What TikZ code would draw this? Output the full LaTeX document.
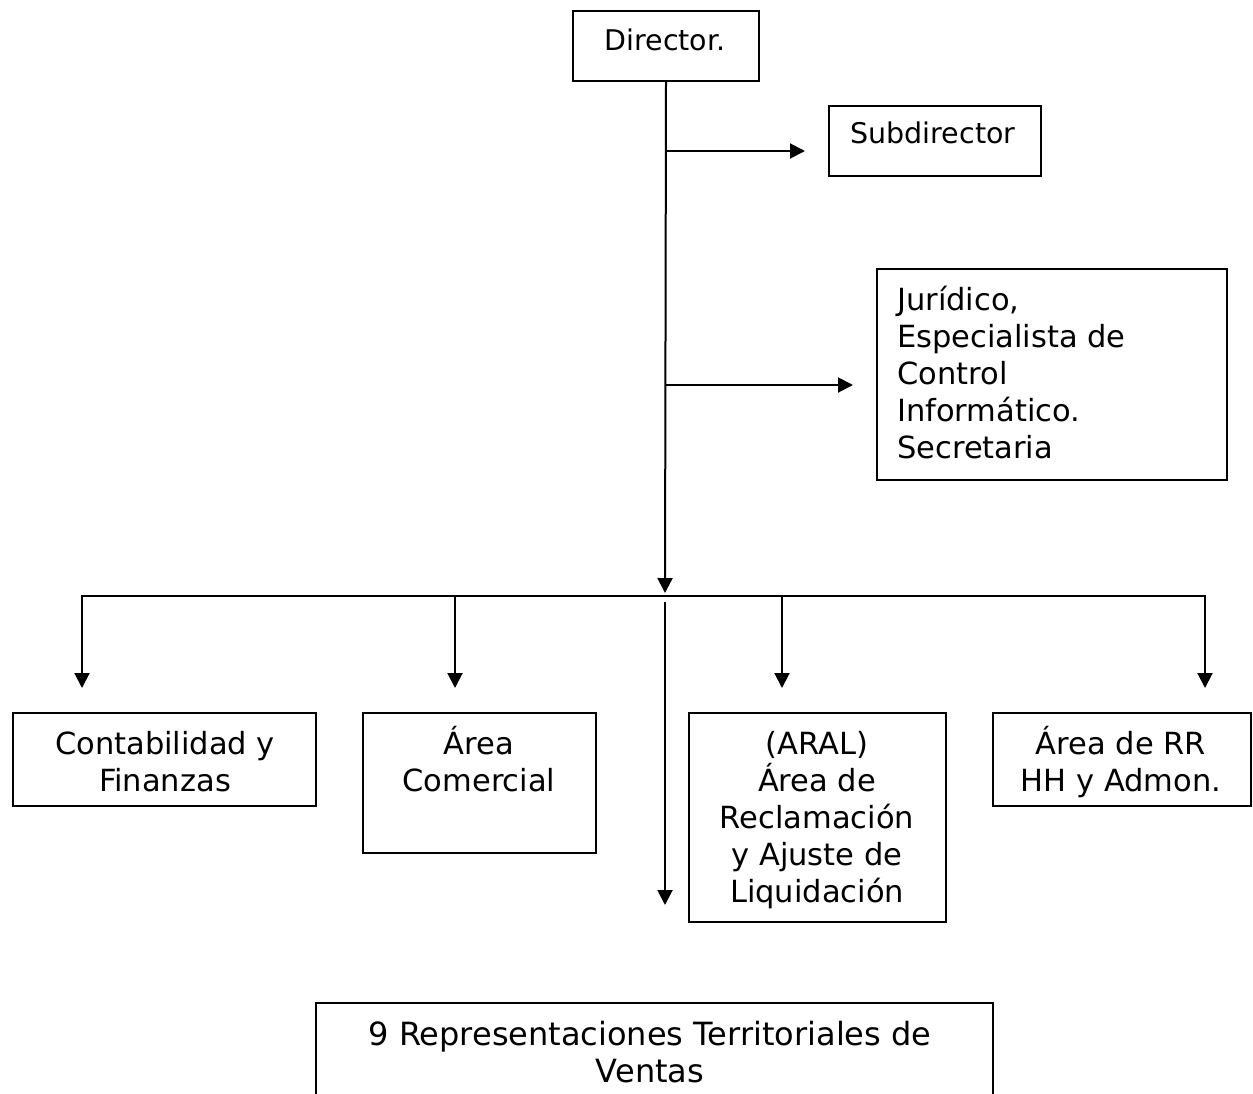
\documentclass[tikz,border=0pt]{standalone}
\usepackage{fontspec}
\setmainfont{DejaVu Sans}
\usetikzlibrary{arrows.meta}
\begin{document}
\begin{tikzpicture}[x=1pt,y=-1pt,
  box/.style={draw, line width=2pt, rectangle, inner sep=0pt, anchor=north west},
  lbl/.style={inner sep=0pt, anchor=base, align=center, font=\fontsize{30.5}{37}\selectfont},
  lblsmall/.style={inner sep=0pt, font=\fontsize{28.5}{37}\selectfont},
  line/.style={line width=2pt},
  arr/.style={line width=2pt, -{Triangle[length=15pt,width=15pt]}}]
\useasboundingbox[fill=white] (0,0) rectangle (1253,1093);

% boxes
\node[box, minimum width=186pt, minimum height=70pt] (dir) at (572,10) {};
\node[box, minimum width=212pt, minimum height=70pt] (sub) at (828,105) {};
\node[box, minimum width=350pt, minimum height=211pt] (jur) at (876,268) {};
\node[box, minimum width=303pt, minimum height=93pt] (cont) at (12,712) {};
\node[box, minimum width=233pt, minimum height=140pt] (com) at (362,712) {};
\node[box, minimum width=257pt, minimum height=209pt] (aral) at (688,712) {};
\node[box, minimum width=258pt, minimum height=93pt] (rrhh) at (992,712) {};
\node[box, minimum width=677pt, minimum height=140pt] (rep) at (315,1002) {};

% texts (anchor base = baseline of the last line)
\node[lblsmall] (tdir) at (665,40) {Director.};
\node[lblsmall] (tsub) at (933,133) {Subdirector};
\node[lbl, anchor=base west, align=left] (tjur) at (897,458)
  {Jurídico,\\Especialista de\\Control\\Informático.\\Secretaria};
\node[lbl] (tcont) at (165,791) {Contabilidad y\\Finanzas};
\node[lbl] (tcom) at (479,791) {Área\\Comercial};
\node[lbl] (taral) at (817,902) {(ARAL)\\Área de\\Reclamación\\y Ajuste de\\Liquidación};
\node[lbl] (trrhh) at (1121,791) {Área de RR\\HH y Admon.};
\node[lbl, font=\fontsize{32}{37}\selectfont] (trep) at (650,1082) {9 Representaciones Territoriales de\\Ventas};

% connectors
\coordinate (bsub) at (665,151);
\coordinate (bjur) at (665,385);
\coordinate (bus) at (665,593);
\coordinate (bl) at (82,596);
\coordinate (br) at (1205,596);
\coordinate (cstart) at (665,602);
\coordinate (cend) at (665,905);
\coordinate (d1) at (82,688);
\coordinate (d2) at (455,596);
\coordinate (d2e) at (455,688);
\coordinate (d3) at (782,596);
\coordinate (d3e) at (782,688);
\coordinate (d4e) at (1205,688);
\coordinate (esub) at (805,151);
\coordinate (ejur) at (853,385);

\draw[arr] (dir.south) -- (bus);
\draw[arr] (bsub) -- (esub);
\draw[arr] (bjur) -- (ejur);
\draw[line, line cap=rect] (bl) -- (br);
\draw[arr] (bl) -- (d1);
\draw[arr] (d2) -- (d2e);
\draw[arr] (d3) -- (d3e);
\draw[arr] (br) -- (d4e);
\draw[arr] (cstart) -- (cend);
\end{tikzpicture}
\end{document}
